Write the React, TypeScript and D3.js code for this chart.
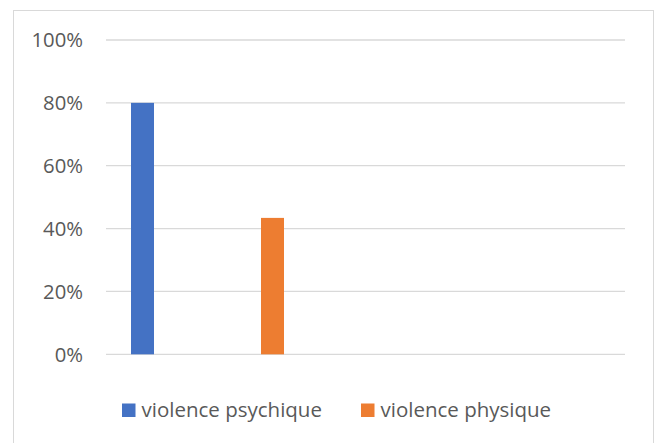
import React from "react";
import * as d3 from "d3";

const series = ["violence psychique", "violence physique"];
const values = [0.8, 0.434];
const colors = ["#4472C4", "#ED7D31"];
const yTicks = [0, 0.2, 0.4, 0.6, 0.8, 1.0];

const W = 659;
const H = 443;
const plotLeft = 106;
const plotRight = 625;
const plotTop = 40;
const plotBottom = 354.3;

export default function App() {
  const y = d3.scaleLinear().domain([0, 1]).range([plotBottom, plotTop]);
  const x = d3.scalePoint<string>().domain(series).range([142.5, 272.5]);
  const barW = 23;
  const fmt = d3.format(".0%");
  const font = "'Open Sans', 'Liberation Sans', sans-serif";
  const legendX = [122, 361];

  return (
    <svg
      width={W}
      height={H}
      style={{ position: "fixed", left: 0, top: 0, background: "#fff" }}
      fontFamily={font}
    >
      <rect x={0} y={0} width={W} height={H} fill="#fff" />
      <rect x={13.5} y={10.5} width={640} height={H + 10} fill="none" stroke="#d9d9d9" strokeWidth={1} />
      {yTicks.map((t) => (
        <g key={t}>
          <line x1={plotLeft} x2={plotRight} y1={y(t)} y2={y(t)} stroke="#d9d9d9" strokeWidth={1.3} />
          <text x={83} y={y(t)} dy="0.36em" textAnchor="end" fontSize={20.3} fill="#595959">
            {fmt(t)}
          </text>
        </g>
      ))}
      {series.map((s, i) => (
        <rect
          key={s}
          x={(x(s) as number) - barW / 2}
          y={y(values[i])}
          width={barW}
          height={y(0) - y(values[i])}
          fill={colors[i]}
        />
      ))}
      {series.map((s, i) => (
        <g key={"lg" + s}>
          <rect x={legendX[i]} y={403.5} width={13.5} height={13.5} fill={colors[i]} />
          <text x={legendX[i] + 19.5} y={417} fontSize={20.5} fill="#595959">
            {s}
          </text>
        </g>
      ))}
    </svg>
  );
}
